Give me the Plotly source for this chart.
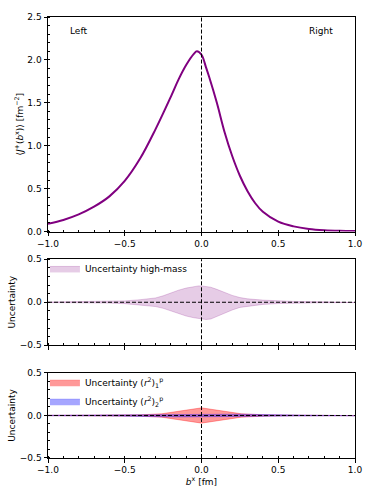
import plotly.graph_objects as go

# top panel: density along b^x
bx = [-1.0, -0.9, -0.8, -0.7, -0.6, -0.5, -0.4, -0.3, -0.2, -0.15, -0.1, -0.05, -0.03,
      0.0, 0.03, 0.05, 0.1, 0.15, 0.2, 0.25, 0.3, 0.35, 0.4, 0.5, 0.6, 0.7, 0.8, 0.9, 1.0]
density = [0.09, 0.135, 0.20, 0.29, 0.41, 0.59, 0.85, 1.19, 1.57, 1.77, 1.94, 2.07, 2.10,
           2.06, 1.91, 1.80, 1.50, 1.16, 0.88, 0.65, 0.47, 0.33, 0.23, 0.115, 0.06, 0.03, 0.015, 0.008, 0.005]

# middle panel: high-mass uncertainty band
bx_band = [-1.0, -0.8, -0.6, -0.5, -0.4, -0.3, -0.25, -0.2, -0.15, -0.1, -0.05, -0.02,
           0.0, 0.03, 0.06, 0.1, 0.15, 0.2, 0.25, 0.3, 0.4, 0.5, 0.6, 0.8, 1.0]
hm_upper = [0.003, 0.005, 0.01, 0.016, 0.03, 0.05, 0.075, 0.11, 0.14, 0.165, 0.182, 0.19,
            0.19, 0.185, 0.175, 0.15, 0.115, 0.08, 0.055, 0.04, 0.025, 0.015, 0.01, 0.005, 0.003]
hm_lower = [-0.003, -0.005, -0.01, -0.016, -0.03, -0.05, -0.07, -0.1, -0.13, -0.16, -0.18, -0.187,
            -0.193, -0.2, -0.195, -0.17, -0.13, -0.09, -0.06, -0.045, -0.025, -0.015, -0.01, -0.005, -0.003]

# bottom panel: radius uncertainties
bx_r = [-1.0, -0.6, -0.4, -0.26, -0.13, 0.0, 0.13, 0.26, 0.4, 0.6, 1.0]
r1_upper = [0.002, 0.004, 0.008, 0.02, 0.055, 0.09, 0.055, 0.02, 0.008, 0.004, 0.002]
r1_lower = [-0.002, -0.004, -0.008, -0.02, -0.055, -0.09, -0.055, -0.02, -0.008, -0.004, -0.002]
r2_upper = [0.003, 0.006, 0.011, 0.015, 0.017, 0.018, 0.017, 0.015, 0.011, 0.006, 0.003]
r2_lower = [-0.003, -0.006, -0.011, -0.015, -0.017, -0.018, -0.017, -0.015, -0.011, -0.006, -0.003]

FONT = "DejaVu Sans"
PURPLE = "rgb(128,0,128)"


def band(xs, up, lo, fill, edge, name, legend):
    return go.Scatter(
        x=xs + xs[::-1], y=up + lo[::-1], fill="toself", fillcolor=fill,
        line=dict(color=edge, width=0.8), mode="lines", name=name, legend=legend,
    )


fig = go.Figure()
fig.add_trace(go.Scatter(x=bx, y=density, mode="lines",
                         line=dict(color=PURPLE, width=2, shape="spline", smoothing=1.0),
                         showlegend=False, xaxis="x", yaxis="y"))
tr = band(bx_band, hm_upper, hm_lower, "rgba(128,0,128,0.2)", "rgba(128,0,128,0.25)",
          "Uncertainty high-mass", "legend")
tr.update(xaxis="x2", yaxis="y2")
fig.add_trace(tr)
tr = band(bx_r, r1_upper, r1_lower, "rgba(255,0,0,0.4)", "rgba(255,0,0,0.4)",
          "Uncertainty (<i>r</i><sup>2</sup>)<sub>1</sub><sup>p</sup>", "legend2")
tr.update(xaxis="x3", yaxis="y3")
fig.add_trace(tr)
tr = band(bx_r, r2_upper, r2_lower, "rgba(0,0,255,0.35)", "rgba(0,0,255,0.35)",
          "Uncertainty (<i>r</i><sup>2</sup>)<sub>2</sub><sup>p</sup>", "legend2")
tr.update(xaxis="x3", yaxis="y3")
fig.add_trace(tr)

axis_common = dict(
    showline=True, linecolor="black", linewidth=1, mirror=True, showgrid=False, zeroline=False,
    ticks="outside", ticklen=3.5, tickwidth=1, tickcolor="black",
    tickfont=dict(family=FONT, size=9, color="black"),
    minor=dict(ticks="inside", ticklen=2, tickwidth=0.8, tickcolor="black"),
)
xax = dict(range=[-1, 1], dtick=0.5, tickformat=".1f", **axis_common)
xax["minor"] = dict(axis_common["minor"], dtick=0.1)

domains = {"y": [0.5135, 1.0], "y2": [0.2556, 0.4507], "y3": [0.0, 0.1928]}

legend_style = dict(x=-0.01, xanchor="left", yanchor="top", bgcolor="rgba(0,0,0,0)",
                    font=dict(size=9), itemwidth=30, tracegroupgap=0)

fig.update_layout(
    width=374, height=498,
    margin=dict(l=48, r=16, t=13, b=39),
    paper_bgcolor="white", plot_bgcolor="white",
    font=dict(family=FONT, size=9, color="black"),
    xaxis=dict(xax, anchor="y"),
    xaxis2=dict(xax, anchor="y2", showticklabels=False),
    xaxis3=dict(xax, anchor="y3",
                title=dict(text="<i>b</i><sup>x</sup> [fm]", font=dict(size=9), standoff=4)),
    yaxis=dict(axis_common, domain=domains["y"], range=[0, 2.5], dtick=0.5, tickformat=".1f",
               minor=dict(axis_common["minor"], dtick=0.1),
               title=dict(text="⟨<i>J</i><sup>+</sup>(<i>b</i><sup>x</sup>)⟩ [fm<sup>−2</sup>]",
                          font=dict(size=9), standoff=2)),
    yaxis2=dict(axis_common, domain=domains["y2"], range=[-0.5, 0.5], dtick=0.5, tickformat=".1f",
                minor=dict(axis_common["minor"], dtick=0.1), anchor="x2",
                title=dict(text="Uncertainty", font=dict(size=9), standoff=2)),
    yaxis3=dict(axis_common, domain=domains["y3"], range=[-0.5, 0.5], dtick=0.5, tickformat=".1f",
                minor=dict(axis_common["minor"], dtick=0.1), anchor="x3",
                title=dict(text="Uncertainty", font=dict(size=9), standoff=2)),
    legend=dict(legend_style, y=domains["y2"][1] + 0.012),
    legend2=dict(legend_style, y=domains["y3"][1] + 0.012),
    showlegend=True,
)

# dashed reference lines
dash = dict(color="black", width=1, dash="4px,2px")
for xa, ya in [("x", "y"), ("x2", "y2"), ("x3", "y3")]:
    fig.add_shape(type="line", xref=xa, yref=f"{ya} domain", x0=0, x1=0, y0=0, y1=1, line=dash)
for xa, ya in [("x2", "y2"), ("x3", "y3")]:
    fig.add_shape(type="line", xref=f"{xa} domain", yref=ya, x0=0, x1=1, y0=0, y1=0, line=dash)

fig.add_annotation(x=-0.8, y=2.34, xref="x", yref="y", text="Left", showarrow=False,
                   font=dict(size=9))
fig.add_annotation(x=0.78, y=2.34, xref="x", yref="y", text="Right", showarrow=False,
                   font=dict(size=9))

# the page body has a default margin; drop it so the figure sits at the window origin
fig.write_html("out.html", config={"displayModeBar": False},
               post_script="document.body.style.margin='0px';")
